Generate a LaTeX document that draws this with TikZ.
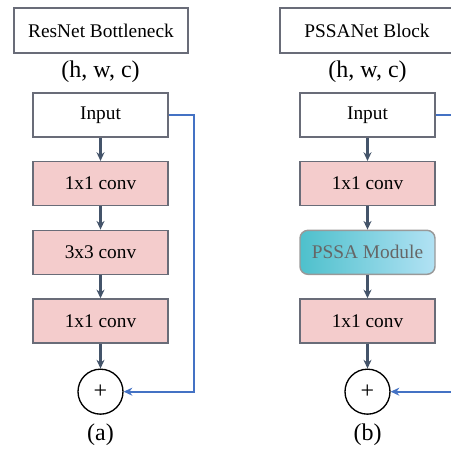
\documentclass[tikz,border=0pt]{standalone}
\usepackage{fontspec}
\setmainfont{Liberation Serif}
\usetikzlibrary{positioning, arrows.meta}

\definecolor{convpink}{RGB}{244,204,204}
\definecolor{boxgray}{RGB}{105,108,120}
\definecolor{flowblue}{RGB}{68,84,106}
\definecolor{skipblue}{RGB}{68,114,196}
\definecolor{modteal}{RGB}{78,192,204}
\definecolor{modlight}{RGB}{178,226,244}

\begin{document}
\begin{tikzpicture} [x = 0.75pt, y = -0.75pt, node distance = 51.5pt, on grid,
    header/.style = {draw = boxgray, line width = 1.1pt, minimum width = 130.5pt,
        minimum height = 33.75pt, font = \fontsize{14.5}{17}\selectfont},
    dims/.style = {font = \fontsize{18}{21}\selectfont},
    layer/.style = {draw = boxgray, line width = 1.1pt, minimum width = 101.25pt,
        minimum height = 33pt, font = \fontsize{14.5}{17}\selectfont},
    conv/.style = {layer, fill = convpink},
    module/.style = {layer, rounded corners = 6pt, left color = modteal,
        right color = modlight, draw = gray!80, text = black!60},
    add/.style = {circle, draw, line width = 1pt, minimum size = 33.75pt,
        inner sep = 0pt, font = \fontsize{18}{21}\selectfont},
    flow/.style = {-{Stealth[length = 6.5pt, width = 6pt]}, flowblue, line width = 1.7pt},
    skipline/.style = {-{Stealth[length = 6.5pt, width = 6pt]}, skipblue, line width = 1.6pt}]

    \useasboundingbox (0,0) rectangle (451,450);
    \clip (0,0) rectangle (451,450);

    % (a) bottleneck
    \node (ta) [header] at (101,30.5) {ResNet Bottleneck};
    \node (da) [dims] at (100.5,72) {(h, w, c)};
    \node (ia) [layer] at (100.5,115) {Input};
    \node (a1) [conv, below = of ia] {1x1 conv};
    \node (a2) [conv, below = of a1] {3x3 conv};
    \node (a3) [conv, below = of a2] {1x1 conv};
    \node (pa) [add, below = 53pt of a3] {+};
    \node (ca) [dims] at (100.5,435) {(a)};

    \path [flow]
        (ia) edge (a1) (a1) edge (a2) (a2) edge (a3) (a3) edge (pa);
    \draw [skipline] (ia.east) -- ++(25,0) |- (pa.east);

    % (b) PSSANet block
    \node (tb) [header] at (367,30.5) {PSSANet Block};
    \node (db) [dims] at (367.5,72) {(h, w, c)};
    \node (ib) [layer] at (367.5,115) {Input};
    \node (b1) [conv, below = of ib] {1x1 conv};
    \node (b2) [module, below = of b1] {PSSA Module};
    \node (b3) [conv, below = of b2] {1x1 conv};
    \node (pb) [add, below = 53pt of b3] {+};
    \node (cb) [dims] at (367.5,435) {(b)};

    \path [flow]
        (ib) edge (b1) (b1) edge (b2) (b2) edge (b3) (b3) edge (pb);
    \draw [skipline] (ib.east) -- ++(25,0) |- (pb.east);

\end{tikzpicture}
\end{document}
